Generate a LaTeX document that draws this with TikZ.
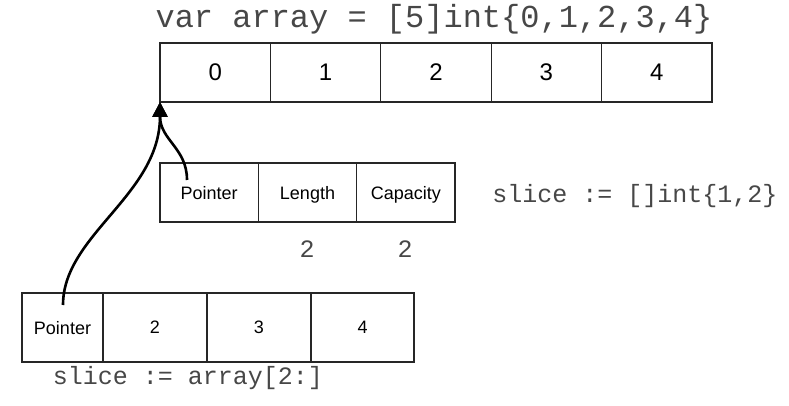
\documentclass[tikz,border=0pt]{standalone}
\usepackage{fontspec}
\setmainfont{Liberation Sans}
\newfontfamily\codefont{Liberation Mono}
\usetikzlibrary{arrows.meta}
\begin{document}
\begin{tikzpicture}[x=1pt,y=-1pt,
  cell/.style={draw=black!85,line width=1.2pt,inner sep=0pt,outer sep=0pt,text depth=0pt,anchor=center},
  topcell/.style={cell,minimum width=110.4pt,minimum height=59pt,font=\fontsize{24}{26}\selectfont},
  midcell/.style={cell,minimum width=98.33pt,minimum height=59pt,font=\fontsize{18}{20}\selectfont},
  botcell/.style={cell,minimum height=69pt,font=\fontsize{18}{20}\selectfont},
  codebig/.style={font=\codefont\fontsize{32}{34}\selectfont,text=black!72,inner sep=0pt,anchor=base},
  code/.style={font=\codefont\fontsize{25}{27}\selectfont,text=black!72,inner sep=0pt,anchor=base},
  ptr/.style={line width=2.6pt,-{Triangle[length=15pt,width=15pt]}}]
\useasboundingbox (0,0) rectangle (789,406);

% title
\node[codebig] (title) at (434,28) {var array = [5]int\{0,1,2,3,4\}};

% top array
\node[topcell] (a0) at (215.2,72.5) {0};
\node[topcell] (a1) at (325.6,72.5) {1};
\node[topcell] (a2) at (436.0,72.5) {2};
\node[topcell] (a3) at (546.4,72.5) {3};
\node[topcell] (a4) at (656.8,72.5) {4};

% middle slice header
\node[midcell] (sp) at (209.17,192.5) {Pointer};
\node[midcell] (sl) at (307.5,192.5) {Length};
\node[midcell] (sc) at (405.83,192.5) {Capacity};
\node[code] (lenv) at (307,257) {2};
\node[code] (capv) at (405,257) {2};
\node[code] (slicedef) at (635,202) {slice := []int\{1,2\}};

% bottom slice
\node[botcell,minimum width=81pt] (bp) at (62.5,327.5) {Pointer};
\node[botcell,minimum width=104pt] (b2) at (155,327.5) {2};
\node[botcell,minimum width=104pt] (b3) at (259,327.5) {3};
\node[botcell,minimum width=103pt] (b4) at (362.5,327.5) {4};
\node[code] (slice2) at (188,384) {slice := array[2:]};

% pointers
\coordinate (tip) at (a0.south west);
\coordinate (bstart) at (63,305);
\coordinate (mstart) at (187,180);
\draw[ptr] (bstart) .. controls (63,235) and (160,195) .. (tip);
\draw[ptr] (mstart) .. controls (187,148) and (160,140) .. (tip);
\end{tikzpicture}
\end{document}
